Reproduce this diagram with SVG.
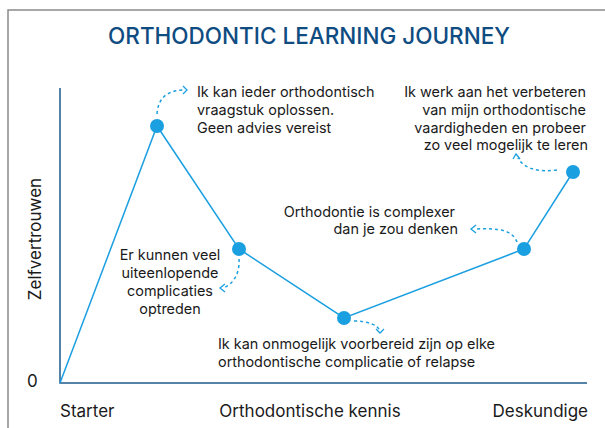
<svg xmlns="http://www.w3.org/2000/svg" width="605" height="428" viewBox="0 0 605 428">
<defs>
<style>
.t{font-family:Inter,"Liberation Sans",Arial,sans-serif;font-size:14.4px;fill:#1a1a1a}
.ax{font-family:Inter,"Liberation Sans",Arial,sans-serif;font-size:17px;fill:#1a1a1a}
.title{font-family:Inter,"Liberation Sans",Arial,sans-serif;font-size:22.5px;fill:#0f4c81;font-weight:500}
.line{fill:none;stroke:#1a9fe0;stroke-width:1.5}
.dot{fill:#1a9fe0}
.dash{fill:none;stroke:#1a9fe0;stroke-width:1.5;stroke-dasharray:3 3}
.head{fill:none;stroke:#1a9fe0;stroke-width:1.3}
</style>
</defs>
<rect width="605" height="428" fill="#fff"/>
<path d="M8,428 V10 H605" fill="none" stroke="#8a8a8a" stroke-width="1.5"/>
<text class="title" x="309" y="44" text-anchor="middle">ORTHODONTIC LEARNING JOURNEY</text>
<g id="axes">
<path d="M60,88 V383 H587" fill="none" stroke="#1e5a8a" stroke-width="1.5"/>
<text class="ax" transform="translate(41,239) rotate(-90)" text-anchor="middle">Zelfvertrouwen</text>
<text class="ax" x="27" y="387">0</text>
<text class="ax" x="60" y="417">Starter</text>
<text class="ax" x="310" y="417" text-anchor="middle">Orthodontische kennis</text>
<text class="ax" x="588" y="417" text-anchor="end">Deskundige</text>
</g>
<g id="connectors">
<polyline class="line" points="60,383 157,126 239,249 344,318 524,249 573,172"/>
<path class="dash" d="M157,114 C158,100 165,90 185,90"/>
<path class="head" d="M183,86 L187,90 L183,94"/>
<path class="dash" d="M557,170 C540,172 525,170 518,158"/>
<path class="head" d="M513,159 L516,154 L520,159"/>
<path class="dash" d="M517,242 C512,230 500,228 474,229"/>
<path class="head" d="M476,225 L471,229 L476,233"/>
<path class="dash" d="M239,259 C240,275 232,285 223,288"/>
<path class="head" d="M225,284 L220,288 L225,292"/>
<path class="dash" d="M354,321 C368,321 378,325 380,331"/>
<path class="head" d="M376,329 L380,333 L384,329"/>
</g>
<g id="node1"><circle class="dot" cx="157" cy="126" r="7"/>
<text class="t" x="197" y="97">Ik kan ieder orthodontisch</text>
<text class="t" x="197" y="115">vraagstuk oplossen.</text>
<text class="t" x="197" y="133">Geen advies vereist</text></g>
<g id="node2"><circle class="dot" cx="239" cy="249" r="7"/>
<text class="t" x="170" y="260" text-anchor="middle">Er kunnen veel</text>
<text class="t" x="170" y="278" text-anchor="middle">uiteenlopende</text>
<text class="t" x="170" y="296" text-anchor="middle">complicaties</text>
<text class="t" x="170" y="314" text-anchor="middle">optreden</text></g>
<g id="node3"><circle class="dot" cx="344" cy="318" r="7"/>
<text class="t" x="218" y="349">Ik kan onmogelijk voorbereid zijn op elke</text>
<text class="t" x="218" y="367">orthodontische complicatie of relapse</text></g>
<g id="node4"><circle class="dot" cx="524" cy="249" r="7"/>
<text class="t" x="455" y="217" text-anchor="end">Orthodontie is complexer</text>
<text class="t" x="458" y="234" text-anchor="end">dan je zou denken</text></g>
<g id="node5"><circle class="dot" cx="573" cy="172" r="7"/>
<text class="t" x="586" y="97" text-anchor="end">Ik werk aan het verbeteren</text>
<text class="t" x="586" y="115" text-anchor="end">van mijn orthodontische</text>
<text class="t" x="586" y="133" text-anchor="end">vaardigheden en probeer</text>
<text class="t" x="588" y="150" text-anchor="end">zo veel mogelijk te leren</text></g>
</svg>
